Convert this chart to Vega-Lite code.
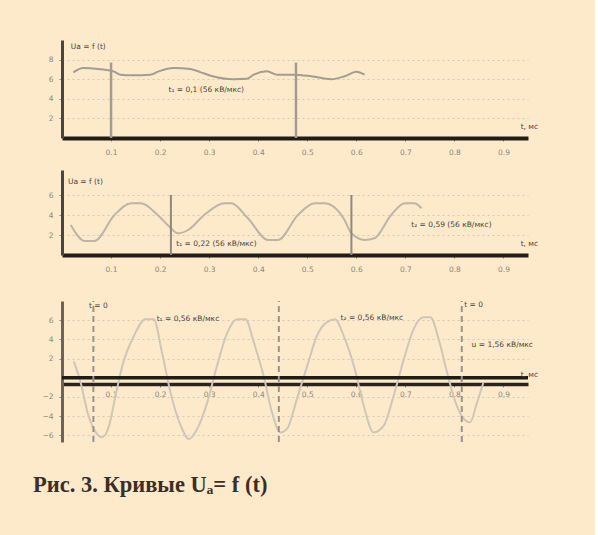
{
  "$schema": "https://vega.github.io/schema/vega-lite/v6.json",
  "background": "#fdeacb",
  "padding": {"left": 32, "top": 40, "right": 56, "bottom": 40},
  "spacing": 13,
  "title": {"text": "Рис. 3. Кривые Uₐ= f (t)", "orient": "bottom", "anchor": "start", "offset": 31, "dx": -9, "font": "Liberation Serif", "fontSize": 22.5, "fontWeight": "bold", "color": "#3b2e25"},
  "config": {
    "view": {"stroke": null},
    "axis": {"labelFont": "DejaVu Sans", "labelFontSize": 7.5, "labelColor": "#8d867d", "tickColor": "#8d867d", "tickSize": 3, "gridColor": "#d6c9b3", "gridDash": [2, 3], "gridWidth": 1, "labelOverlap": false, "labelBound": false},
    "text": {"font": "DejaVu Sans", "fontSize": 7.5, "color": "#4a433d", "align": "left", "baseline": "middle"}
  },
  "datasets": {
    "c1": [
      {"t": 0.023, "u": 6.7}, {"t": 0.043, "u": 7.15}, {"t": 0.074, "u": 7.05}, {"t": 0.105, "u": 6.8},
      {"t": 0.119, "u": 6.46}, {"t": 0.145, "u": 6.4}, {"t": 0.18, "u": 6.46}, {"t": 0.197, "u": 6.8},
      {"t": 0.227, "u": 7.15}, {"t": 0.262, "u": 7.05}, {"t": 0.283, "u": 6.7}, {"t": 0.303, "u": 6.36},
      {"t": 0.35, "u": 6.0}, {"t": 0.377, "u": 6.05}, {"t": 0.391, "u": 6.46}, {"t": 0.418, "u": 6.8},
      {"t": 0.439, "u": 6.46}, {"t": 0.473, "u": 6.46}, {"t": 0.508, "u": 6.3}, {"t": 0.549, "u": 6.0},
      {"t": 0.576, "u": 6.3}, {"t": 0.6, "u": 6.75}, {"t": 0.617, "u": 6.46}
    ],
    "c2": [
      {"t": 0.018, "u": 3.0}, {"t": 0.046, "u": 1.4}, {"t": 0.066, "u": 1.4}, {"t": 0.107, "u": 4.0},
      {"t": 0.141, "u": 5.17}, {"t": 0.161, "u": 5.17}, {"t": 0.195, "u": 4.0}, {"t": 0.219, "u": 2.83},
      {"t": 0.236, "u": 2.17}, {"t": 0.257, "u": 2.5}, {"t": 0.29, "u": 4.0}, {"t": 0.331, "u": 5.17},
      {"t": 0.345, "u": 5.17}, {"t": 0.379, "u": 3.67}, {"t": 0.42, "u": 1.5}, {"t": 0.44, "u": 1.5},
      {"t": 0.481, "u": 4.0}, {"t": 0.515, "u": 5.17}, {"t": 0.535, "u": 5.17}, {"t": 0.576, "u": 3.5},
      {"t": 0.59, "u": 2.17}, {"t": 0.617, "u": 1.5}, {"t": 0.637, "u": 1.67}, {"t": 0.671, "u": 4.0},
      {"t": 0.699, "u": 5.17}, {"t": 0.718, "u": 5.17}, {"t": 0.733, "u": 4.67}
    ],
    "c3": [
      {"t": 0.024, "u": 1.67}, {"t": 0.038, "u": -0.49}, {"t": 0.052, "u": -3.6}, {"t": 0.069, "u": -5.7},
      {"t": 0.082, "u": -6.2}, {"t": 0.096, "u": -5.0}, {"t": 0.109, "u": -1.9}, {"t": 0.123, "u": 1.25},
      {"t": 0.147, "u": 4.4}, {"t": 0.17, "u": 6.1}, {"t": 0.187, "u": 6.1}, {"t": 0.204, "u": 2.6},
      {"t": 0.221, "u": -1.5}, {"t": 0.242, "u": -5.0}, {"t": 0.259, "u": -6.4}, {"t": 0.276, "u": -5.3},
      {"t": 0.296, "u": -2.6}, {"t": 0.316, "u": 1.25}, {"t": 0.337, "u": 4.7}, {"t": 0.357, "u": 6.1},
      {"t": 0.374, "u": 6.1}, {"t": 0.391, "u": 3.7}, {"t": 0.411, "u": 0.2}, {"t": 0.428, "u": -3.6},
      {"t": 0.445, "u": -5.7}, {"t": 0.459, "u": -5.3}, {"t": 0.479, "u": -2.2}, {"t": 0.5, "u": 1.25},
      {"t": 0.52, "u": 4.4}, {"t": 0.54, "u": 5.8}, {"t": 0.557, "u": 6.1}, {"t": 0.574, "u": 4.4},
      {"t": 0.595, "u": 1.25}, {"t": 0.615, "u": -2.9}, {"t": 0.635, "u": -5.7}, {"t": 0.656, "u": -5.0},
      {"t": 0.676, "u": -1.9}, {"t": 0.697, "u": 1.95}, {"t": 0.717, "u": 5.1}, {"t": 0.737, "u": 6.3},
      {"t": 0.751, "u": 6.3}, {"t": 0.768, "u": 4.0}, {"t": 0.785, "u": 0.55}, {"t": 0.798, "u": -1.9},
      {"t": 0.815, "u": -4.0}, {"t": 0.832, "u": -4.65}, {"t": 0.846, "u": -2.6}, {"t": 0.859, "u": -0.5}
    ],
    "v1": [{"t": 0.1, "u": 0, "u2": 7.7}, {"t": 0.477, "u": 0, "u2": 7.7}],
    "v2": [{"t": 0.222, "u": 0, "u2": 6.0}, {"t": 0.59, "u": 0, "u2": 6.0}],
    "v3": [{"t": 0.064, "u": -6.7, "u2": 8}, {"t": 0.442, "u": -6.7, "u2": 8}, {"t": 0.815, "u": -6.7, "u2": 8}],
    "l1": [
      {"t": 0.018, "u": 9.3, "s": "Uа = f (t)"},
      {"t": 0.217, "u": 4.85, "s": "t₁ = 0,1 (56 кВ/мкс)"},
      {"t": 0.935, "u": 1.1, "s": "t, мс"}
    ],
    "l2": [
      {"t": 0.012, "u": 7.3, "s": "Uа = f (t)"},
      {"t": 0.233, "u": 1.1, "s": "t₁ = 0,22 (56 кВ/мкс)"},
      {"t": 0.712, "u": 3.0, "s": "t₂ = 0,59 (56 кВ/мкс)"},
      {"t": 0.935, "u": 1.1, "s": "t, мс"}
    ],
    "l3": [
      {"t": 0.055, "u": 7.5, "s": "t = 0"},
      {"t": 0.82, "u": 7.6, "s": "t = 0"},
      {"t": 0.193, "u": 6.1, "s": "t₁ = 0,56 кВ/мкс"},
      {"t": 0.568, "u": 6.2, "s": "t₂ = 0,56 кВ/мкс"},
      {"t": 0.835, "u": 3.4, "s": "u = 1,56 кВ/мкс"},
      {"t": 0.935, "u": 0.3, "s": "t, мс"}
    ],
    "z": [{"u": 0}]
  },
  "vconcat": [
    {
      "width": 466, "height": 98,
      "encoding": {
        "x": {"field": "t", "type": "quantitative", "title": null, "scale": {"domain": [0, 0.95], "nice": false},
              "axis": {"values": [0.1, 0.2, 0.3, 0.4, 0.5, 0.6, 0.7, 0.8, 0.9], "format": ".1f", "grid": false, "domainColor": "#221c18", "domainWidth": 4, "labelPadding": 7, "minExtent": 19, "maxExtent": 19}},
        "y": {"field": "u", "type": "quantitative", "title": null, "scale": {"domain": [0, 10], "nice": false},
              "axis": {"values": [2, 4, 6, 8], "grid": true, "labelOverlap": false, "domainColor": "#4a4540", "domainWidth": 3, "labelPadding": 6, "minExtent": 20, "maxExtent": 20}}
      },
      "layer": [
        {"data": {"name": "c1"}, "mark": {"type": "line", "interpolate": "monotone", "color": "#a39c92", "strokeWidth": 2}},
        {"data": {"name": "v1"}, "mark": {"type": "rule", "color": "#a39c92", "strokeWidth": 2.5}, "encoding": {"y2": {"field": "u2"}}},
        {"data": {"name": "l1"}, "mark": {"type": "text"}, "encoding": {"text": {"field": "s"}}}
      ]
    },
    {
      "width": 466, "height": 85,
      "encoding": {
        "x": {"field": "t", "type": "quantitative", "title": null, "scale": {"domain": [0, 0.95], "nice": false},
              "axis": {"values": [0.1, 0.2, 0.3, 0.4, 0.5, 0.6, 0.7, 0.8, 0.9], "format": ".1f", "grid": false, "domainColor": "#221c18", "domainWidth": 4, "labelPadding": 7, "minExtent": 32, "maxExtent": 32}},
        "y": {"field": "u", "type": "quantitative", "title": null, "scale": {"domain": [0, 8.5], "nice": false},
              "axis": {"values": [2, 4, 6], "grid": true, "labelOverlap": false, "domainColor": "#4a4540", "domainWidth": 3, "labelPadding": 6, "minExtent": 20, "maxExtent": 20}}
      },
      "layer": [
        {"data": {"name": "c2"}, "mark": {"type": "line", "interpolate": "monotone", "color": "#bdb4a6", "strokeWidth": 2}},
        {"data": {"name": "v2"}, "mark": {"type": "rule", "color": "#8f887e", "strokeWidth": 2}, "encoding": {"y2": {"field": "u2"}}},
        {"data": {"name": "l2"}, "mark": {"type": "text"}, "encoding": {"text": {"field": "s"}}}
      ]
    },
    {
      "width": 466, "height": 141,
      "encoding": {
        "x": {"field": "t", "type": "quantitative", "title": null, "scale": {"domain": [0, 0.95], "nice": false},
              "axis": {"values": [0.1, 0.2, 0.3, 0.4, 0.5, 0.6, 0.7, 0.8, 0.9], "format": ".1f", "grid": false, "offset": -58, "domainColor": "#2a2420", "domainWidth": 3.5, "labelPadding": 3}},
        "y": {"field": "u", "type": "quantitative", "title": null, "scale": {"domain": [-6.7, 8], "nice": false},
              "axis": {"values": [-6, -4, -2, 2, 4, 6], "grid": true, "labelOverlap": false, "domainColor": "#6a645d", "domainWidth": 3, "labelPadding": 6, "minExtent": 20, "maxExtent": 20}}
      },
      "layer": [
        {"data": {"name": "c3"}, "mark": {"type": "line", "interpolate": "monotone", "color": "#cfc6b7", "strokeWidth": 2}},
        {"data": {"name": "z"}, "mark": {"type": "rule", "color": "#221c18", "strokeWidth": 3.5}, "encoding": {"x": null}},
        {"data": {"name": "v3"}, "mark": {"type": "rule", "color": "#9a938a", "strokeWidth": 2, "strokeDash": [6, 4]}, "encoding": {"y2": {"field": "u2"}}},
        {"data": {"name": "l3"}, "mark": {"type": "text"}, "encoding": {"text": {"field": "s"}}}
      ]
    }
  ]
}
